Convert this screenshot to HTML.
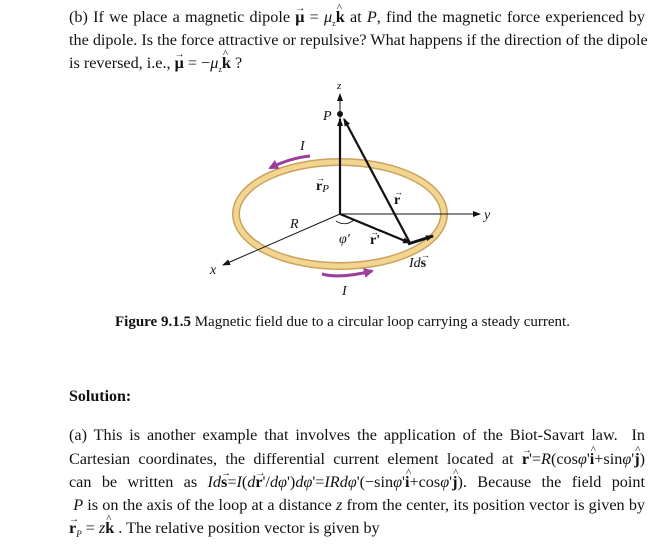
<!DOCTYPE html>
<html><head><meta charset="utf-8"><style>
body{margin:0;width:664px;height:545px;background:#fff;position:relative;overflow:hidden;font-family:"Liberation Serif",serif;font-size:16.2px;color:#111}
.l{position:absolute;left:69px;width:576px;text-align:justify;text-align-last:justify;white-space:nowrap;line-height:20px}
.n{text-align-last:left}
i{font-style:italic}
b{font-weight:bold}
.v{position:relative;display:inline-block;font-weight:bold}
.v::after{content:"\2192";position:absolute;left:0;top:-8px;font-size:10px;font-weight:normal}
.h{position:relative;display:inline-block;font-weight:bold}
.h::after{content:"^";position:absolute;left:1px;top:-9px;font-size:11px;font-weight:normal}
</style></head><body>
<div class="l" style="top:7px">(b) If we place a magnetic dipole <span class="v">μ</span> = <i>μ</i><sub style="font-size:8px">z</sub><span class="h">k</span> at <i>P</i>, find the magnetic force experienced by</div>
<div class="l" style="top:30px">the dipole. Is the force attractive or repulsive? What happens if the direction of the dipole</div>
<div class="l n" style="top:53px">is reversed, i.e., <span class="v">μ</span> = −<i>μ</i><sub style="font-size:8px">z</sub><span class="h">k</span> ?</div>

<svg style="position:absolute;left:0;top:0" width="664" height="545" font-family="Liberation Serif,serif">
<defs><marker id="a" markerWidth="8" markerHeight="8" refX="7" refY="4" orient="auto" markerUnits="userSpaceOnUse"><path d="M0,1 L8,4 L0,7 Z" fill="#111"/></marker>
<marker id="p" markerWidth="10" markerHeight="10" refX="8" refY="5" orient="auto" markerUnits="userSpaceOnUse"><path d="M0,0 L10,5 L0,10 Z" fill="#9b3f9a"/></marker></defs>
<ellipse cx="340" cy="214" rx="104" ry="52" fill="none" stroke="#c9a35c" stroke-width="8"/>
<ellipse cx="340" cy="214" rx="104" ry="52" fill="none" stroke="#f3d592" stroke-width="5"/>
<line x1="340" y1="214" x2="340" y2="94" stroke="#111" stroke-width="1" marker-end="url(#a)"/>
<line x1="340" y1="214" x2="480" y2="214" stroke="#111" stroke-width="1" marker-end="url(#a)"/>
<line x1="340" y1="214" x2="223" y2="265" stroke="#111" stroke-width="1" marker-end="url(#a)"/>
<line x1="340" y1="214" x2="340" y2="119" stroke="#111" stroke-width="2.2" marker-end="url(#a)"/>
<line x1="340" y1="214" x2="410" y2="243" stroke="#111" stroke-width="2.2" marker-end="url(#a)"/>
<line x1="410" y1="243" x2="344" y2="119" stroke="#111" stroke-width="2.2" marker-end="url(#a)"/>
<line x1="408" y1="244" x2="433" y2="236" stroke="#111" stroke-width="3" marker-end="url(#a)"/>
<circle cx="340" cy="114" r="3" fill="#111"/>
<path d="M336,221 Q345,227 354,220" fill="none" stroke="#111" stroke-width="0.8"/>
<path d="M310,156 Q290,158 270,168" fill="none" stroke="#9b3f9a" stroke-width="3" marker-end="url(#p)"/>
<path d="M322,274 Q340,279 372,271" fill="none" stroke="#9b3f9a" stroke-width="3" marker-end="url(#p)"/>
<g font-size="14" font-style="italic" fill="#111">
<text x="337" y="89" font-size="11">z</text>
<text x="323" y="120">P</text>
<text x="300" y="150">I</text>
<text x="484" y="219">y</text>
<text x="210" y="274">x</text>
<text x="290" y="228">R</text>
<text x="339" y="243">φ'</text>
<text x="409" y="267">Id<tspan font-style="normal" font-weight="bold">s</tspan></text>
<text x="342" y="295">I</text>
</g>
<g font-size="14" font-weight="bold" fill="#111">
<text x="316" y="190">r<tspan font-size="11" font-weight="normal" font-style="italic" dy="2">P</tspan></text>
<text x="394" y="204">r</text>
<text x="370" y="244">r'</text>
</g>
<g font-size="9" fill="#111">
<text x="316" y="181">→</text>
<text x="394" y="195">→</text>
<text x="370" y="235">→</text>
<text x="421" y="258">→</text>
</g>
</svg>

<div style="position:absolute;left:115px;top:314px;font-size:15px;white-space:nowrap"><b>Figure 9.1.5</b> Magnetic field due to a circular loop carrying a steady current.</div>
<div style="position:absolute;left:69px;top:388px;font-size:16px;font-weight:bold">Solution:</div>

<div class="l" style="top:425px">(a) This is another example that involves the application of the Biot-Savart law. &nbsp;In</div>
<div class="l" style="top:449px">Cartesian coordinates, the differential current element located at <span class="v">r</span>'=<i>R</i>(cos<i>φ</i>'<span class="h">i</span>+sin<i>φ</i>'<span class="h">j</span>)</div>
<div class="l" style="top:472px">can be written as <i>Id</i><span class="v">s</span>=<i>I</i>(<i>d</i><span class="v">r</span>'/<i>dφ</i>')<i>dφ</i>'=<i>IRdφ</i>'(−sin<i>φ</i>'<span class="h">i</span>+cos<i>φ</i>'<span class="h">j</span>). Because the field point</div>
<div class="l" style="top:495px">&nbsp;<i>P</i> is on the axis of the loop at a distance <i>z</i> from the center, its position vector is given by</div>
<div class="l n" style="top:518px"><span class="v">r</span><sub style="font-size:9px"><i>P</i></sub> = <i>z</i><span class="h">k</span> . The relative position vector is given by</div>
</body></html>
